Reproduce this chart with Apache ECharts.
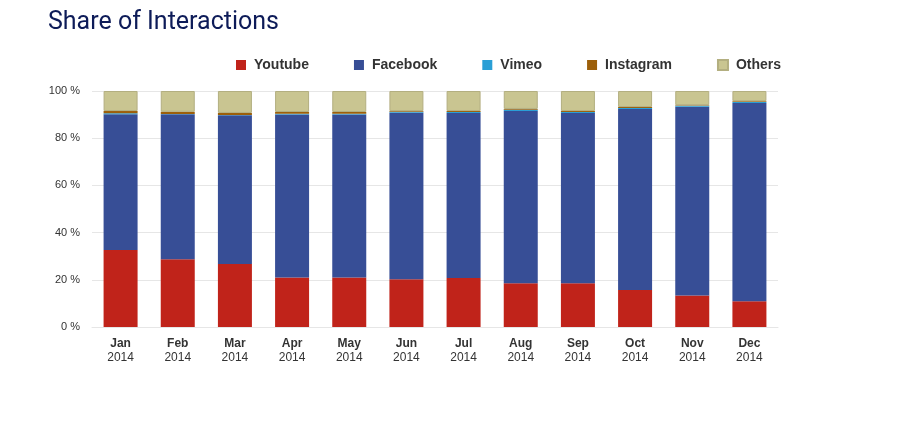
<!DOCTYPE html>
<html>
<head>
<meta charset="utf-8">
<script src="https://cdn.jsdelivr.net/npm/echarts@6/dist/echarts.min.js"></script>
<style>
html,body{margin:0;padding:0;background:#fff;}
#chart{width:899px;height:434px;}
</style>
</head>
<body>
<div id="chart"></div>
<script>
var months = ['Jan','Feb','Mar','Apr','May','Jun','Jul','Aug','Sep','Oct','Nov','Dec'];
var year = '2014';
var youtube   = [32.6, 28.7, 26.7, 21.0, 21.0, 20.2, 20.8, 18.5, 18.5, 15.7, 13.4, 10.9];
var facebook  = [57.6, 61.5, 63.0, 69.0, 69.0, 70.6, 69.9, 73.0, 72.2, 76.7, 79.9, 84.0];
var vimeo     = [0.4, 0.1, 0.1, 0.4, 0.4, 0.4, 0.4, 0.6, 0.4, 0.4, 0.4, 0.4];
var instagram = [0.9, 0.9, 0.9, 0.7, 0.7, 0.3, 0.4, 0.3, 0.4, 0.4, 0.3, 0.4];
var others    = [8.5, 8.8, 9.3, 8.9, 8.9, 8.5, 8.5, 7.6, 8.5, 6.8, 6.0, 4.3];
var yTicks = [0, 20, 40, 60, 80, 100];

var chart = echarts.init(document.getElementById('chart'));
function mk(name, data, color, border) {
  return {
    name: name, type: 'bar', stack: 'total', data: data, barWidth: 34,
    itemStyle: { color: color, borderColor: border || color, borderWidth: border ? 1 : 0 },
    emphasis: { disabled: true }
  };
}
chart.setOption({
  animation: false,
  title: {
    text: 'Share of Interactions', left: 43, top: 5,
    textStyle: { fontFamily: 'Roboto', fontWeight: 'normal', fontSize: 25, color: '#0d1b58' }
  },
  legend: {
    left: 236, top: 58, padding: 0, itemWidth: 10, itemHeight: 10, itemGap: 45,
    icon: 'rect',
    textStyle: { fontFamily: 'Liberation Sans, Arial', fontWeight: 'bold', fontSize: 14, color: '#333', padding: [0, 0, 0, 3] },
    data: ['Youtube','Facebook','Vimeo','Instagram','Others']
  },
  grid: { left: 92, right: 121, top: 91, bottom: 107 },
  xAxis: {
    type: 'category', data: months,
    axisLine: { lineStyle: { color: '#e6e6e6' } },
    axisTick: { alignWithLabel: true, length: 5, lineStyle: { color: '#ccd6eb' } },
    axisLabel: {
      interval: 0, margin: 10, color: '#333', fontFamily: 'Liberation Sans, Arial', fontSize: 12, lineHeight: 14,
      formatter: function (v) { return '{b|' + v + '}\n{n|' + year + '}'; },
      rich: {
        b: { fontWeight: 'bold', fontSize: 12, color: '#333', fontFamily: 'Liberation Sans, Arial', lineHeight: 14 },
        n: { fontSize: 12, color: '#333', fontFamily: 'Liberation Sans, Arial', lineHeight: 14 }
      }
    }
  },
  yAxis: {
    type: 'value', min: yTicks[0], max: yTicks[yTicks.length - 1], interval: 20,
    axisLine: { show: false }, axisTick: { show: false },
    splitLine: { lineStyle: { color: '#e6e6e6' } },
    axisLabel: { formatter: '{value} %', color: '#333', fontSize: 11, fontFamily: 'Liberation Sans, Arial', margin: 12 }
  },
  series: [
    mk('Youtube', youtube, '#c0231a'),
    mk('Facebook', facebook, '#374e96'),
    mk('Vimeo', vimeo, '#2a9fd6'),
    mk('Instagram', instagram, '#9c5f0a'),
    mk('Others', others, '#c9c591', '#b3af80')
  ]
});
</script>
</body>
</html>
